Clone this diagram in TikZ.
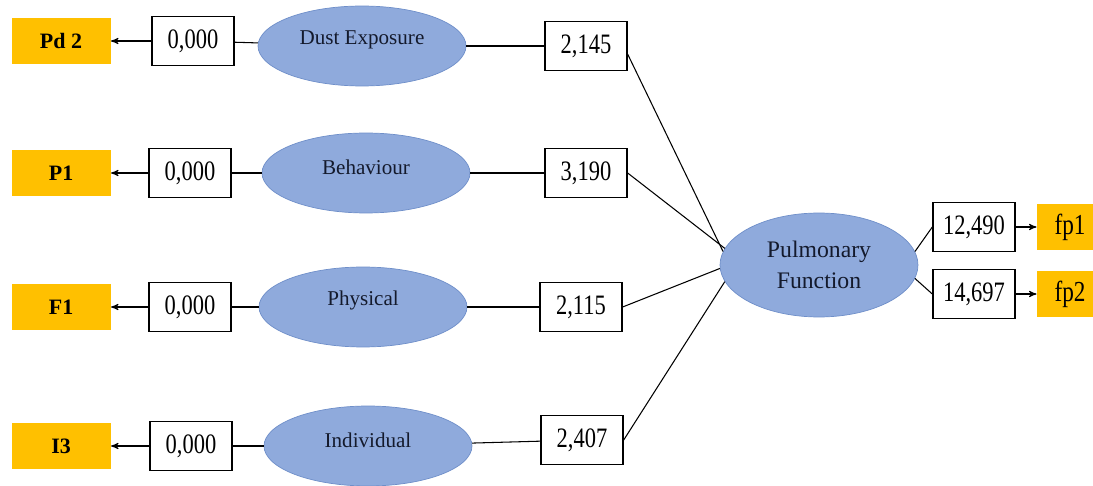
\documentclass[tikz,border=0pt]{standalone}
\usepackage{fontspec}
\setmainfont{Liberation Serif}
\newfontfamily\lvfont{Liberation Serif}
\newfontfamily\numfont{Liberation Serif}[FakeStretch=0.8]
\usetikzlibrary{arrows,shapes,positioning}
\definecolor{lvblue}{HTML}{8FAADC}
\definecolor{lvedge}{HTML}{6F8FC9}
\definecolor{indgold}{HTML}{FFC000}
\definecolor{lvtext}{HTML}{141A2C}

\begin{document}
\begin{tikzpicture}[>=stealth', x=0.02cm, y=-0.02cm, semithick]
  \tikzstyle{latent}=[ellipse, fill=lvblue, draw=lvedge, thin, minimum width=4.16cm, minimum height=1.6cm, text=lvtext]
  \tikzstyle{lvname}=[text=lvtext, yshift=3.5pt, font=\lvfont\fontsize{12}{14}\selectfont]
  \tikzstyle{loading}=[rectangle, draw=black, line width=0.8pt, fill=white, minimum width=1.64cm, minimum height=0.98cm, font=\numfont\fontsize{16}{18}\selectfont]
  \tikzstyle{indicator}=[rectangle, fill=indgold, minimum width=1.98cm, minimum height=0.94cm, font=\lvfont\bfseries\fontsize{12.5}{14}\selectfont]

  \useasboundingbox (0,0) rectangle (1093,486);

	\node[latent, label={[lvname]center:Dust Exposure}]	(e1) at (362,46)	{};
	\node[latent, label={[lvname]center:Behaviour}]		(e2) at (366,173)	{};
	\node[latent, label={[lvname]center:Physical}]		(e3) at (363,307)	{};
	\node[latent, label={[lvname]center:Individual}]		(e4) at (368,446)	{};

	\node[loading]	(v1) at (193,41)	{0,000};
	\node[loading]	(v2) [left of=e2, node distance=3.52cm]	{0,000};
	\node[loading]	(v3) [left of=e3, node distance=3.46cm]	{0,000};
	\node[loading]	(v4) [left of=e4, node distance=3.54cm]	{0,000};

	\node[indicator]	(o1) [left of=v1, node distance=2.64cm]	{Pd 2};
	\node[indicator]	(o2) [left of=v2, node distance=2.58cm]	{P1};
	\node[indicator]	(o3) [left of=v3, node distance=2.58cm]	{F1};
	\node[indicator]	(o4) [left of=v4, node distance=2.6cm]	{I3};

	\node[loading]	(r1) [right of=e1, node distance=4.48cm]	{2,145};
	\node[loading]	(r2) [right of=e2, node distance=4.4cm]	{3,190};
	\node[loading]	(r3) [right of=e3, node distance=4.36cm]	{2,115};
	\node[loading]	(r4) at (582,440)	{2,407};

	\node[latent, minimum width=3.96cm, minimum height=2.08cm, align=center,
	      font=\lvfont\fontsize{13.5}{18}\selectfont]	(pf) at (819,265)	{Pulmonary\\Function};

	\node[loading]	(q1) at (974,227)	{12,490};
	\node[loading]	(q2) at (974,294)	{14,697};
	\node[indicator, minimum width=1.32cm, font=\numfont\fontsize{16.5}{18}\selectfont]	(f1) [right of=q1, node distance=1.92cm]	{fp1};
	\node[indicator, minimum width=1.32cm, font=\numfont\fontsize{16.5}{18}\selectfont]	(f2) [right of=q2, node distance=1.92cm]	{fp2};

	\path[->]
			(v1) edge  []	node {} (o1)
			(v2) edge  []	node {} (o2)
			(v3) edge  []	node {} (o3)
			(v4) edge  []	node {} (o4)
			(q1) edge  []	node {} (f1)
			(q2) edge  []	node {} (f2);

	\path
			(e1) edge  []	node {} (v1)
				edge  []	node {} (r1)
			(e2) edge  []	node {} (v2)
				edge  []	node {} (r2)
			(e3) edge  []	node {} (v3)
				edge  []	node {} (r3)
			(e4) edge  []	node {} (v4)
				edge  []	node {} (r4)
			(r1.-11) edge  []	node {} (pf.172)
			(r2.east) edge  []	node {} (pf.170)
			(r3.east) edge  []	node {} (pf.182)
			(r4.east) edge  []	node {} (pf.190)
			(pf.8) edge  []	node {} (q1.west)
			(pf.-8) edge  []	node {} (q2.west);

\end{tikzpicture}
\end{document}
